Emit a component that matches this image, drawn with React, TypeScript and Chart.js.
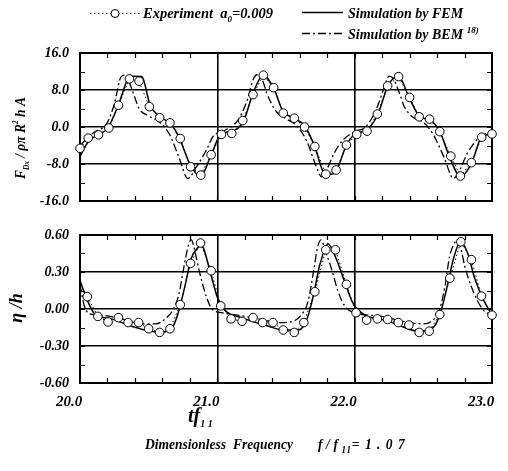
import { useEffect, useRef } from "react";
import { Chart, registerables } from "chart.js";

Chart.register(...registerables);

const X_MIN = 20;
const X_MAX = 23;

// Drag force F_Dx / (rho*pi*R^2*h*A) — experiment
const expForceT = [20.0, 20.06, 20.135, 20.21, 20.28, 20.36, 20.43, 20.505, 20.58, 20.655, 20.73, 20.805, 20.88, 20.955, 21.03, 21.105, 21.185, 21.26, 21.335, 21.41, 21.48, 21.56, 21.635, 21.71, 21.79, 21.865, 21.94, 22.015, 22.09, 22.165, 22.24, 22.32, 22.4, 22.47, 22.545, 22.62, 22.7, 22.77, 22.85, 22.925, 23.0];
const expForceV = [-4.6, -2.4, -1.7, -0.2, 4.7, 10.4, 9.9, 4.4, 2.0, 0.9, -2.5, -8.6, -10.4, -6.0, -1.6, -1.4, 1.4, 7.0, 11.2, 8.5, 3.0, 1.9, 0.0, -4.2, -10.2, -9.3, -3.9, -1.6, -0.9, 2.8, 8.9, 10.9, 6.4, 2.2, 1.7, -1.0, -6.3, -10.6, -7.7, -2.2, -1.5];

// Drag force — FEM simulation
const femForceT = [20.0, 20.06, 20.13, 20.2, 20.28, 20.35, 20.375, 20.45, 20.51, 20.58, 20.66, 20.72, 20.81, 20.88, 20.955, 21.03, 21.1, 21.19, 21.26, 21.333, 21.41, 21.48, 21.56, 21.64, 21.71, 21.78, 21.83, 21.87, 21.94, 22.01, 22.09, 22.17, 22.245, 22.32, 22.395, 22.475, 22.55, 22.62, 22.69, 22.77, 22.85, 22.92, 23.0];
const femForceV = [-6.4, -3.2, -1.7, -0.3, 4.8, 10.5, 11.0, 10.9, 4.8, 2.2, 0.8, -2.2, -8.6, -10.6, -6.0, -1.4, -1.0, 1.2, 7.3, 11.2, 8.4, 3.3, 1.9, 0.1, -4.3, -10.0, -10.2, -9.3, -3.9, -1.4, -0.6, 2.8, 9.1, 10.9, 6.5, 2.2, 1.5, -1.0, -6.4, -10.7, -7.9, -2.4, -1.4];

// Drag force — BEM simulation
const bemForceT = [20.0, 20.1, 20.2, 20.25, 20.3, 20.33, 20.38, 20.43, 20.5, 20.58, 20.65, 20.72, 20.785, 20.85, 20.92, 20.97, 21.05, 21.15, 21.22, 21.26, 21.29, 21.33, 21.36, 21.43, 21.5, 21.58, 21.65, 21.72, 21.76, 21.8, 21.85, 21.915, 22.0, 22.08, 22.16, 22.22, 22.25, 22.28, 22.33, 22.36, 22.42, 22.5, 22.57, 22.65, 22.72, 22.77, 22.82, 22.91, 23.0];
const bemForceV = [-4.0, -1.2, 1.0, 5.0, 10.9, 11.2, 8.0, 4.0, 2.4, 1.0, -1.5, -6.5, -11.1, -8.5, -5.0, -2.0, -0.8, 1.5, 6.0, 10.2, 11.3, 10.0, 7.3, 3.3, 1.8, 0.2, -3.0, -8.5, -10.8, -9.0, -5.7, -2.8, -1.0, 0.0, 4.0, 9.0, 11.0, 10.5, 7.0, 4.5, 2.2, 1.0, -1.5, -6.5, -11.1, -9.0, -5.7, -2.2, -1.0];

// Free-surface elevation eta / h — experiment
const expElevT = [20.053, 20.13, 20.204, 20.28, 20.35, 20.427, 20.5, 20.58, 20.655, 20.73, 20.805, 20.878, 20.955, 21.025, 21.1, 21.18, 21.26, 21.33, 21.405, 21.48, 21.56, 21.63, 21.71, 21.79, 21.86, 21.94, 22.01, 22.087, 22.165, 22.24, 22.318, 22.395, 22.47, 22.543, 22.62, 22.693, 22.773, 22.85, 22.923, 23.0];
const expElevV = [0.10, -0.06, -0.105, -0.07, -0.11, -0.11, -0.16, -0.19, -0.16, 0.035, 0.37, 0.535, 0.31, 0.025, -0.08, -0.10, -0.07, -0.11, -0.11, -0.17, -0.19, -0.11, 0.14, 0.48, 0.48, 0.20, -0.03, -0.09, -0.08, -0.085, -0.11, -0.13, -0.19, -0.18, -0.045, 0.25, 0.545, 0.40, 0.105, -0.05];

// Elevation — FEM simulation
const femElevT = [20.0, 20.05, 20.107, 20.228, 20.35, 20.47, 20.58, 20.665, 20.71, 20.76, 20.81, 20.86, 20.88, 20.955, 21.0, 21.055, 21.175, 21.345, 21.48, 21.59, 21.65, 21.7, 21.745, 21.795, 21.805, 21.865, 21.927, 21.99, 22.075, 22.22, 22.34, 22.46, 22.56, 22.62, 22.67, 22.72, 22.77, 22.82, 22.875, 22.94, 23.0];
const femElevV = [0.23, 0.08, -0.04, -0.08, -0.13, -0.17, -0.19, -0.16, -0.05, 0.165, 0.41, 0.50, 0.52, 0.27, 0.095, -0.01, -0.07, -0.13, -0.17, -0.17, -0.09, 0.11, 0.355, 0.515, 0.53, 0.41, 0.22, 0.043, -0.05, -0.09, -0.14, -0.18, -0.16, -0.05, 0.165, 0.41, 0.545, 0.46, 0.245, 0.07, -0.05];

// Elevation — BEM simulation
const bemElevT = [20.0, 20.03, 20.07, 20.15, 20.3, 20.45, 20.55, 20.62, 20.68, 20.72, 20.75, 20.79, 20.81, 20.84, 20.87, 20.92, 20.96, 21.03, 21.15, 21.3, 21.45, 21.55, 21.61, 21.66, 21.7, 21.73, 21.755, 21.79, 21.83, 21.88, 21.93, 22.0, 22.2, 22.35, 22.5, 22.58, 22.62, 22.66, 22.69, 22.73, 22.75, 22.78, 22.8, 22.85, 22.93, 23.0];
const bemElevV = [0.2, 0.03, -0.04, -0.05, -0.08, -0.12, -0.12, -0.08, 0.0, 0.12, 0.3, 0.52, 0.56, 0.45, 0.3, 0.1, 0.0, -0.03, -0.05, -0.08, -0.11, -0.1, -0.05, 0.06, 0.3, 0.5, 0.56, 0.46, 0.33, 0.14, 0.02, -0.03, -0.06, -0.1, -0.12, -0.08, 0.0, 0.2, 0.42, 0.54, 0.56, 0.46, 0.355, 0.18, 0.0, -0.05];

// Axis tick settings
const forceTicks = [-16, -8, 0, 8, 16];
const elevTicks = [-0.6, -0.3, 0, 0.3, 0.6];
const timeTicks = [20, 21, 22, 23];

const SERIF = '"Liberation Serif", "Times New Roman", "DejaVu Serif", serif';
const fnt = (size: number) => `italic bold ${size}px ${SERIF}`;

const zip = (t: number[], v: number[]) => t.map((x, i) => ({ x, y: v[i] }));

type Run = { t: string; size: number; dy?: number; ls?: number };

function drawRuns(ctx: CanvasRenderingContext2D, runs: Run[], x: number, y: number, align: "left" | "center" = "left", sx = 1) {
  ctx.save();
  ctx.translate(x, y);
  ctx.scale(sx, 1);
  ctx.textAlign = "left";
  ctx.textBaseline = "alphabetic";
  ctx.fillStyle = "#000";
  let total = 0;
  for (const r of runs) {
    ctx.font = fnt(r.size);
    (ctx as any).letterSpacing = `${r.ls ?? 0}px`;
    total += ctx.measureText(r.t).width;
  }
  let cx = align === "center" ? -total / 2 : 0;
  for (const r of runs) {
    ctx.font = fnt(r.size);
    (ctx as any).letterSpacing = `${r.ls ?? 0}px`;
    ctx.fillText(r.t, cx, r.dy ?? 0);
    cx += ctx.measureText(r.t).width;
  }
  (ctx as any).letterSpacing = "0px";
  ctx.restore();
}

// Frame and inward minor ticks on all four sides
const framePlugin = {
  id: "frame",
  beforeDatasetsDraw(chart: any, _args: any, opts: any) {
    const { ctx, chartArea, scales } = chart;
    const { left, right, top, bottom } = chartArea;
    const xs = scales.x;
    const ys = scales.y;
    ctx.save();
    ctx.strokeStyle = "#000";
    ctx.lineWidth = 1.2;
    ctx.beginPath();
    const nx = Math.round((X_MAX - X_MIN) / 0.2);
    for (let i = 1; i < nx; i++) {
      const px = Math.round(xs.getPixelForValue(X_MIN + i * 0.2)) + 0.5;
      ctx.moveTo(px, top);
      ctx.lineTo(px, top + 5);
      ctx.moveTo(px, bottom);
      ctx.lineTo(px, bottom - 5);
    }
    const step = opts.minorY as number;
    const ny = Math.round((ys.max - ys.min) / step);
    for (let i = 1; i < ny; i++) {
      const py = Math.round(ys.getPixelForValue(ys.min + i * step)) + 0.5;
      ctx.moveTo(left, py);
      ctx.lineTo(left + 5, py);
      ctx.moveTo(right, py);
      ctx.lineTo(right - 5, py);
    }
    ctx.stroke();
    ctx.lineWidth = 2;
    ctx.strokeRect(left, top, right - left, bottom - top);
    ctx.restore();
  },
};

function legendAndTitlePlugin(kind: "force" | "elev") {
  return {
    id: "labels-" + kind,
    afterDraw(chart: any) {
      const ctx: CanvasRenderingContext2D = chart.ctx;
      ctx.save();
      ctx.strokeStyle = "#000";
      if (kind === "force") {
        // legend row 1: experiment
        ctx.lineWidth = 1;
        ctx.setLineDash([1.5, 2.5]);
        ctx.beginPath();
        ctx.moveTo(90, 13.5);
        ctx.lineTo(140, 13.5);
        ctx.stroke();
        ctx.setLineDash([]);
        ctx.beginPath();
        ctx.arc(115, 13.5, 4, 0, Math.PI * 2);
        ctx.fillStyle = "#fff";
        ctx.fill();
        ctx.stroke();
        drawRuns(ctx, [
          { t: "Experiment  a", size: 14.5 },
          { t: "0", size: 9, dy: 4 },
          { t: "=0.009", size: 14.5 },
        ], 143, 18);
        // legend row 1: FEM
        ctx.lineWidth = 1.3;
        ctx.beginPath();
        ctx.moveTo(302, 12.5);
        ctx.lineTo(343, 12.5);
        ctx.stroke();
        drawRuns(ctx, [{ t: "Simulation by FEM", size: 14 }], 348, 18);
        // legend row 2: BEM
        ctx.setLineDash([8, 3, 2, 3]);
        ctx.beginPath();
        ctx.moveTo(302, 33.5);
        ctx.lineTo(343, 33.5);
        ctx.stroke();
        ctx.setLineDash([]);
        drawRuns(ctx, [
          { t: "Simulation by BEM ", size: 14 },
          { t: "18)", size: 9, dy: -6 },
        ], 348, 39);
        // y title, rotated
        ctx.save();
        ctx.translate(25, 138);
        ctx.rotate(-Math.PI / 2);
        drawRuns(ctx, [
          { t: "F", size: 15 },
          { t: "Dx", size: 8, dy: 4 },
          { t: " / \u03c1\u03c0 R", size: 15 },
          { t: "2", size: 8, dy: -7 },
          { t: " h A", size: 15 },
        ], 0, 0, "center", 0.9);
        ctx.restore();
      } else {
        // y title, rotated
        ctx.save();
        ctx.translate(22, 93);
        ctx.rotate(-Math.PI / 2);
        drawRuns(ctx, [{ t: "\u03b7 /h", size: 18 }], 0, 0, "center");
        ctx.restore();
        // x title
        drawRuns(ctx, [
          { t: "tf", size: 20 },
          { t: "1 1", size: 10, dy: 5 },
        ], 188, 207);
        // caption
        const sx = 0.9;
        drawRuns(ctx, [{ t: "Dimensionless", size: 15 }], 145, 234, "left", sx);
        drawRuns(ctx, [{ t: "Frequency", size: 15 }], 233, 234, "left", sx);
        drawRuns(ctx, [
          { t: "f/f", size: 15, ls: 4 },
          { t: "11", size: 10, dy: 4, ls: 1 },
          { t: "=1.07", size: 15, ls: 6 },
        ], 318, 234, "left", sx);
      }
      ctx.restore();
    },
  };
}

function baseOptions(
  yMin: number,
  yMax: number,
  yTicks: number[],
  digits: number,
  minorY: number,
  showXLabels: boolean,
  padTop: number,
  padBottom: number
) {
  const near = (a: number, b: number) => Math.abs(a - b) < 1e-6;
  const isInnerY = (v: number) => yTicks.slice(1, -1).some((t) => near(t, v));
  const isInnerX = (v: number) => timeTicks.slice(1, -1).some((t) => near(t, v));
  return {
    responsive: false,
    animation: false as const,
    layout: { padding: { top: padTop, bottom: padBottom, left: 0, right: 16 } },
    plugins: {
      legend: { display: false },
      tooltip: { enabled: false },
      frame: { minorY },
    },
    scales: {
      x: {
        type: "linear" as const,
        min: X_MIN,
        max: X_MAX,
        afterBuildTicks: (s: any) => {
          s.ticks = timeTicks.map((value) => ({ value }));
        },
        afterFit: (s: any) => {
          s.height = showXLabels ? 88 : 0;
          s.paddingLeft = 0;
          s.paddingRight = 0;
          s.paddingTop = 0;
          s.paddingBottom = 0;
        },
        ticks: {
          display: showXLabels,
          callback: (v: any) => Number(v).toFixed(1),
          font: { family: SERIF, size: 15, style: "italic" as const, weight: "bold" as const },
          color: "#000",
          padding: 10,
          labelOffset: -11,
          maxRotation: 0,
          autoSkip: false,
        },
        grid: {
          color: (c: any) => (c.tick && isInnerX(c.tick.value) ? "#000" : "rgba(0,0,0,0)"),
          lineWidth: 1.6,
          drawTicks: false,
        },
        border: { display: false },
      },
      y: {
        type: "linear" as const,
        min: yMin,
        max: yMax,
        afterBuildTicks: (s: any) => {
          s.ticks = yTicks.map((value) => ({ value }));
        },
        afterFit: (s: any) => {
          s.width = 80;
          s.paddingLeft = 0;
          s.paddingRight = 0;
          s.paddingTop = 0;
          s.paddingBottom = 0;
        },
        ticks: {
          callback: (v: any) => Number(v).toFixed(digits),
          font: { family: SERIF, size: 14, style: "italic" as const, weight: "bold" as const },
          color: "#000",
          padding: 11,
        },
        grid: {
          color: (c: any) => (c.tick && isInnerY(c.tick.value) ? "#000" : "rgba(0,0,0,0)"),
          lineWidth: 1.6,
          drawTicks: false,
        },
        border: { display: false },
      },
    },
  };
}

function datasets(expT: number[], expV: number[], femT: number[], femV: number[], bemT: number[], bemV: number[]) {
  return [
    {
      label: "Experiment",
      data: zip(expT, expV),
      borderColor: "#000",
      borderWidth: 1,
      borderDash: [1.5, 2.5],
      tension: 0,
      pointRadius: 4.3,
      pointBackgroundColor: "#fff",
      pointBorderColor: "#000",
      pointBorderWidth: 1,
      clip: false as const,
    },
    {
      label: "Simulation by FEM",
      data: zip(femT, femV),
      borderColor: "#000",
      borderWidth: 1.5,
      pointRadius: 0,
      cubicInterpolationMode: "monotone" as const,
    },
    {
      label: "Simulation by BEM",
      data: zip(bemT, bemV),
      borderColor: "#000",
      borderWidth: 1.3,
      borderDash: [8, 3, 2, 3],
      pointRadius: 0,
      cubicInterpolationMode: "monotone" as const,
    },
  ];
}

export default function App() {
  const topRef = useRef<HTMLCanvasElement>(null);
  const botRef = useRef<HTMLCanvasElement>(null);

  useEffect(() => {
    const top = new Chart(topRef.current!, {
      type: "line",
      data: { datasets: datasets(expForceT, expForceV, femForceT, femForceV, bemForceT, bemForceV) as any },
      options: baseOptions(-16, 16, forceTicks, 1, 4, false, 53, 14) as any,
      plugins: [framePlugin, legendAndTitlePlugin("force")],
    });
    const bottom = new Chart(botRef.current!, {
      type: "line",
      data: { datasets: datasets(expElevT, expElevV, femElevT, femElevV, bemElevT, bemElevV) as any },
      options: baseOptions(-0.6, 0.6, elevTicks, 2, 0.15, true, 20, 0) as any,
      plugins: [framePlugin, legendAndTitlePlugin("elev")],
    });
    return () => {
      top.destroy();
      bottom.destroy();
    };
  }, []);

  return (
    <div style={{ position: "absolute", left: 0, top: 0, width: 508, height: 471, background: "#fff" }}>
      <canvas ref={topRef} width={508} height={215} style={{ position: "absolute", left: 0, top: 0, width: 508, height: 215 }} />
      <canvas ref={botRef} width={508} height={256} style={{ position: "absolute", left: 0, top: 215, width: 508, height: 256 }} />
    </div>
  );
}
